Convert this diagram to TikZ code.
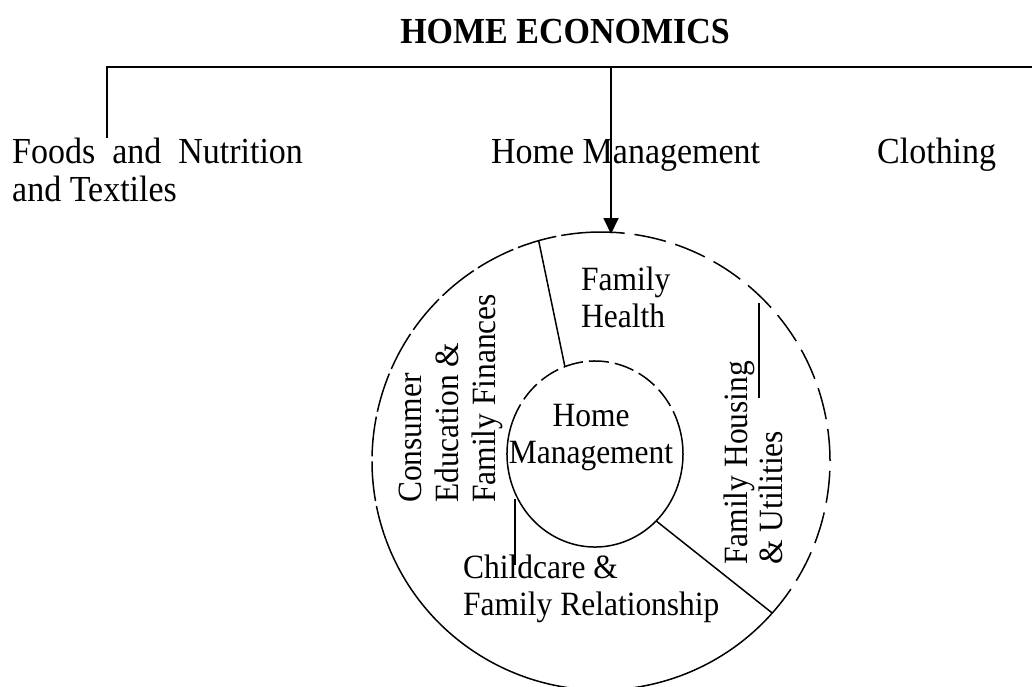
\documentclass[tikz,border=0pt]{standalone}
\usepackage{fontspec}
\setmainfont{Liberation Serif}
\usetikzlibrary{arrows.meta,calc}
\begin{document}
\begin{tikzpicture}[x=1pt,y=1pt,
  toplabel/.style={inner sep=0pt, anchor=base west, xscale=0.926, font=\fontsize{36.7}{40}\selectfont},
  seclabel/.style={inner sep=0pt, anchor=base west, xscale=0.926, font=\fontsize{34}{37}\selectfont},
  vlabel/.style={inner sep=0pt, anchor=base west, rotate=90, xscale=0.926, font=\fontsize{34}{37}\selectfont},
  bar/.style={line width=1.8pt},
  ring/.style={line width=1.5pt},
  wideDash/.style={dash pattern=on 40pt off 5pt},
  gapDash/.style={dash pattern=on 32pt off 10pt},
  innerDash/.style={dash pattern=on 20pt off 6pt}]
\useasboundingbox (0,0) rectangle (1032,-686);

% title and top labels
\node[inner sep=0pt, anchor=base, xscale=0.926, font=\bfseries\fontsize{36.7}{40}\selectfont] (title) at (565,-43) {HOME ECONOMICS};
\node[toplabel] (foods1) at (12,-163) {\makebox[314pt][s]{Foods and Nutrition}};
\node[toplabel] (foods2) at (12,-201) {and Textiles};
\node[toplabel] (hm) at (491,-163) {Home Management};
\node[toplabel] (cloth) at (877,-163) {Clothing};

% tree bar
\coordinate (barL) at (107,-67);
\coordinate (barR) at (1032,-67);
\coordinate (barM) at (611,-67);
\coordinate (foodsTop) at (107,-138);
\coordinate (tip) at (611,-234);
\draw[bar] (foodsTop) -- (barL) -- (barR);
\draw[bar,-{Triangle[length=16pt,width=15pt]}] (barM) -- (tip);

% circles
\coordinate (O) at (601,-461);
\coordinate (I) at (595,-454);
\draw[ring, wideDash] ($(O)+(90:229)$) arc[start angle=90, end angle=200, radius=229];
\draw[ring] ($(O)+(200:229)$) arc[start angle=200, end angle=318, radius=229];
\draw[ring, gapDash] ($(O)+(-42:229)$) arc[start angle=-42, end angle=90, radius=229];
\draw[ring, innerDash] ($(I)+(15:88 and 93)$) arc[start angle=15, end angle=160, x radius=88, y radius=93];
\draw[ring] ($(I)+(160:88 and 93)$) arc[start angle=160, end angle=375, x radius=88, y radius=93];

% dividers
\coordinate (A1) at ($(O)+(105.8:229)$);
\coordinate (A2) at ($(I)+(110:88 and 93)$);
\coordinate (B1) at ($(I)+(-46:88 and 93)$);
\coordinate (B2) at ($(O)+(-41.6:229)$);
\draw[ring] (A1) -- (A2);
\draw[ring] (B1) -- (B2);
\coordinate (H1) at (759,-303);
\coordinate (H2) at (759,-398);
\coordinate (C1) at (515,-499);
\coordinate (C2) at (515,-565);
\draw[ring] (H1) -- (H2);
\draw[ring] (C1) -- (C2);

% section labels
\node[seclabel] (fh1) at (581,-290) {Family};
\node[seclabel] (fh2) at (581,-327) {Health};
\node[seclabel, anchor=base] (hm1) at (591,-426) {Home};
\node[seclabel, anchor=base] (hm2) at (591,-463) {Management};
\node[seclabel] (cf1) at (463,-578) {Childcare \&};
\node[seclabel] (cf2) at (463,-615) {Family Relationship};
\node[vlabel] (ce1) at (421,-503) {Consumer};
\node[vlabel] (ce2) at (458,-503) {Education \&};
\node[vlabel] (ce3) at (495,-503) {Family Finances};
\node[vlabel] (fu1) at (747,-565) {Family Housing};
\node[vlabel] (fu2) at (782,-565) {\& Utilities};
\end{tikzpicture}
\end{document}
